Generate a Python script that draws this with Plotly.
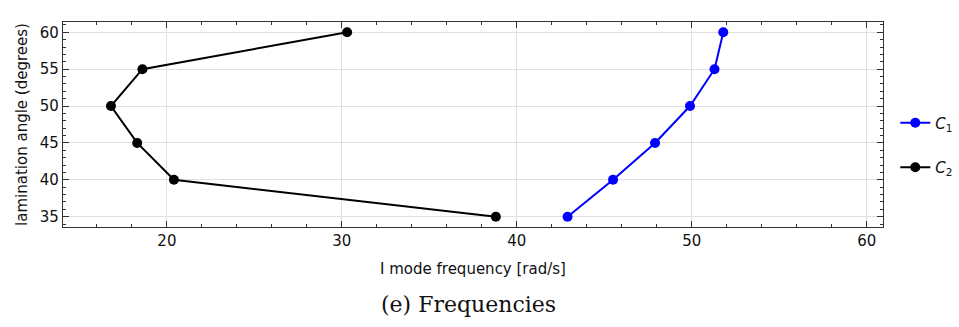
import plotly.graph_objects as go

angles = [35, 40, 45, 50, 55, 60]
c1_freq = [42.9, 45.5, 47.9, 49.9, 51.3, 51.8]
c2_freq = [38.8, 20.4, 18.3, 16.8, 18.6, 30.3]
x_ticks = [20, 30, 40, 50, 60]
y_ticks = [35, 40, 45, 50, 55, 60]

fig = go.Figure()
fig.add_trace(go.Scatter(x=c1_freq, y=angles, mode="lines+markers", name="<i>C</i><sub>1</sub>",
                         line=dict(color="#0000ff", width=2), marker=dict(size=10, color="#0000ff"),
                         legendgroup="a"))
fig.add_trace(go.Scatter(x=c2_freq, y=angles, mode="lines+markers", name="<i>C</i><sub>2</sub>",
                         line=dict(color="black", width=2), marker=dict(size=10, color="black"),
                         legendgroup="b"))

axis_common = dict(showline=True, linecolor="#333", linewidth=1.2, mirror="allticks",
                   ticks="inside", ticklen=6, tickcolor="#333", showgrid=True,
                   gridcolor="#e0e0e0", gridwidth=1, zeroline=False,
                   tickfont=dict(family="DejaVu Sans", size=15, color="#111"))

fig.update_xaxes(range=[14.06, 60.93], tickvals=x_ticks,
                 minor=dict(dtick=2, tick0=0, ticks="inside", ticklen=3, tickcolor="#333", showgrid=False),
                 title=dict(text="I mode frequency [rad/s]", font=dict(family="DejaVu Sans", size=15, color="#111"), standoff=14),
                 **axis_common)
fig.update_yaxes(range=[33.6, 61.4], tickvals=y_ticks,
                 minor=dict(dtick=1, tick0=0, ticks="inside", ticklen=3, tickcolor="#333", showgrid=False),
                 title=dict(text="lamination angle (degrees)", font=dict(family="DejaVu Sans", size=15, color="#111"), standoff=8),
                 **axis_common)

fig.add_annotation(text="(e) Frequencies", xref="paper", yref="paper", x=0.495, y=-0.38,
                   xanchor="center", yanchor="middle", showarrow=False,
                   font=dict(family="DejaVu Serif", size=22, color="#111"))

fig.update_layout(width=959, height=327, margin=dict(l=63, r=76, t=22, b=100, autoexpand=False),
                  plot_bgcolor="white", paper_bgcolor="white",
                  showlegend=True,
                  legend=dict(x=1.015, y=0.4, xanchor="left", yanchor="middle", tracegroupgap=22,
                              font=dict(family="DejaVu Sans", size=15, color="#111"),
                              bgcolor="rgba(0,0,0,0)", itemwidth=30))

fig.write_html("out.html")
